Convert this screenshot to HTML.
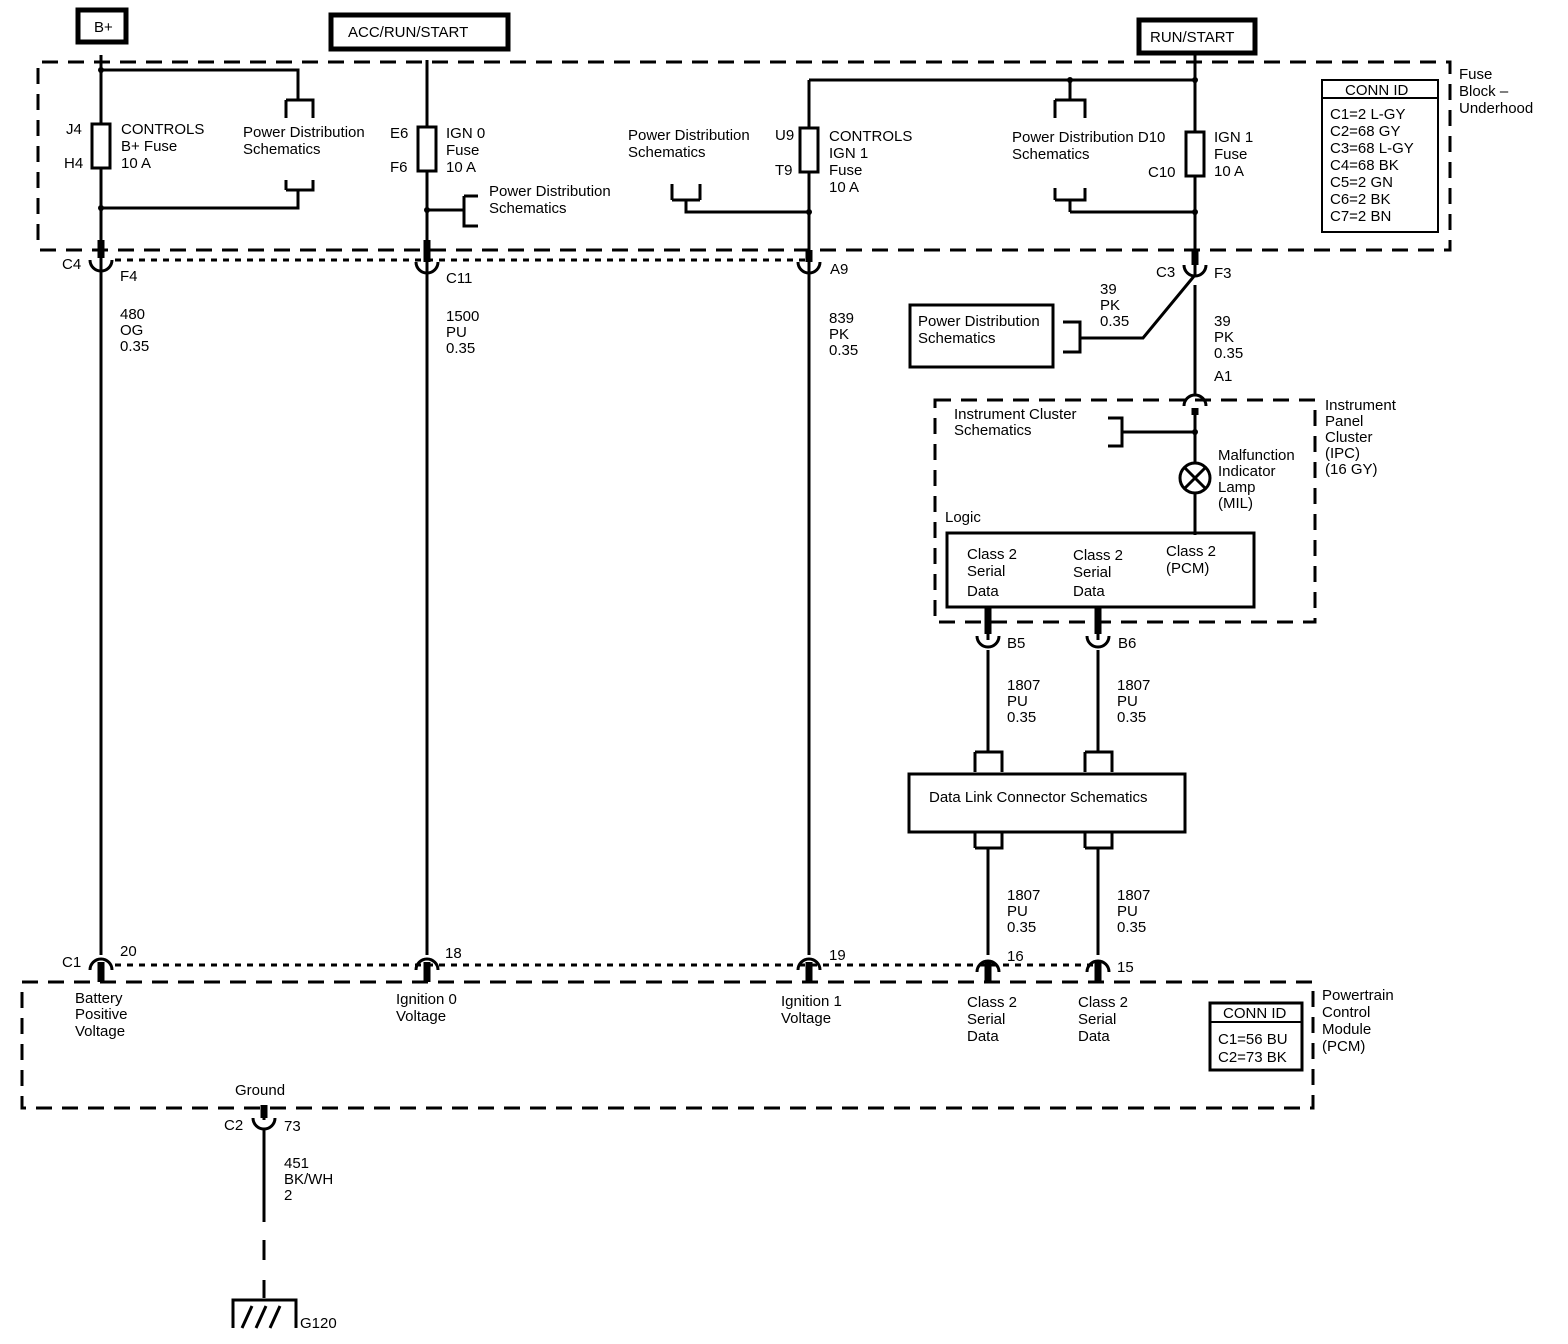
<!DOCTYPE html>
<html><head><meta charset="utf-8"><style>
html,body{margin:0;padding:0;background:#fff}
svg{display:block}
text{font-family:"Liberation Sans",sans-serif;font-size:15px;fill:#000}
</style></head><body>
<svg width="1568" height="1344" viewBox="0 0 1568 1344" xmlns="http://www.w3.org/2000/svg">
<g fill="none" stroke="#000">
<rect x="78" y="10" width="48" height="32" stroke-width="5"/>
<rect x="331" y="15" width="177" height="34" stroke-width="5"/>
<rect x="1139" y="20" width="116" height="33" stroke-width="5"/>
<path d="M38 240 V62 H1450 V250 H38" stroke-width="3" stroke-dasharray="16,10"/>
<path d="M935 400 H1315 V622 H935 Z" stroke-width="3" stroke-dasharray="16,10"/>
<path d="M22 982 H1313 V1108 H22 Z" stroke-width="3" stroke-dasharray="16,10"/>
<path d="M115 260 H805" stroke-width="3" stroke-dasharray="6,6"/>
<path d="M115 965 H1095" stroke-width="3" stroke-dasharray="6,6"/>
<g stroke-width="3">
<path d="M101 55 V955"/>
<path d="M427 60 V955"/>
<path d="M809 80 V955"/>
<path d="M1195 55 V275 M1195 285 V395"/>
<path d="M1195 410 V462 M1195 494 V535"/>
<path d="M809 80 H1195"/>
<path d="M101 70 H298 V100 M286 100 H313 V118 M286 100 V118"/>
<path d="M101 208 H298 V190 M286 190 H313 V180 M286 190 V180"/>
<path d="M427 210 H464 M464 196 H478 M464 196 V226 H478"/>
<path d="M686 200 V212 H809 M672 200 H700 M672 200 V184 M700 200 V184"/>
<path d="M1070 80 V100 M1055 100 H1085 V118 M1055 100 V118"/>
<path d="M1070 212 H1195 M1070 212 V200 M1055 200 H1085 V188 M1055 200 V188"/>
<path d="M1080 338 H1143 L1195 275"/>
<path d="M1063 322 H1080 V352 H1063"/>
<path d="M1122 432 H1195 M1108 418 H1122 V446 H1108"/>
<path d="M988 610 V640 M988 650 V752 M975 752 H1002 V772 M975 752 V772"/>
<path d="M1098 610 V640 M1098 650 V752 M1085 752 H1112 V772 M1085 752 V772"/>
<path d="M988 848 V955 M975 848 H1002 V832 M975 848 V832"/>
<path d="M1098 848 V955 M1085 848 H1112 V832 M1085 848 V832"/>
<path d="M264 1105 V1120 M264 1130 V1222"/>
<path d="M264 1240 V1260 M264 1280 V1298"/>
<path d="M233 1328 V1300 H296 V1328 M242 1328 L252 1306 M256 1328 L266 1306 M270 1328 L280 1306"/>
</g>
<g stroke-width="3">
<rect x="92" y="124" width="18" height="44" fill="#fff"/>
<rect x="418" y="127" width="18" height="44" fill="#fff"/>
<rect x="800" y="128" width="18" height="44" fill="#fff"/>
<rect x="1186" y="132" width="18" height="44" fill="#fff"/>
<rect x="910" y="305" width="143" height="62"/>
<rect x="947" y="533" width="307" height="74"/>
<rect x="909" y="774" width="276" height="58"/>
<rect x="1322" y="80" width="116" height="152" stroke-width="2"/>
<path d="M1322 98 H1438" stroke-width="2"/>
<rect x="1210" y="1003" width="92" height="67"/>
<path d="M1210 1022 H1302" stroke-width="2"/>
<circle cx="1195" cy="478" r="15"/>
<path d="M1184 467 L1206 489 M1206 467 L1184 489"/>
</g>
<g stroke-width="3">
<path d="M90 260 A11 11 0 0 0 112 260"/>
<path d="M416 262 A11 11 0 0 0 438 262"/>
<path d="M798 262 A11 11 0 0 0 820 262"/>
<path d="M1184 265 A11 11 0 0 0 1206 265"/>
<path d="M1184 406 A11 11 0 0 1 1206 406"/>
<path d="M977 636 A11 11 0 0 0 999 636"/>
<path d="M1087 636 A11 11 0 0 0 1109 636"/>
<path d="M90 970 A11 11 0 0 1 112 970"/>
<path d="M416 970 A11 11 0 0 1 438 970"/>
<path d="M798 970 A11 11 0 0 1 820 970"/>
<path d="M977 972 A11 11 0 0 1 999 972"/>
<path d="M1087 972 A11 11 0 0 1 1109 972"/>
<path d="M253 1118 A11 11 0 0 0 275 1118"/>
</g>
<g stroke-width="7">
<path d="M101 240 V258 M427 240 V262 M809 250 V262 M1195 250 V265 M1195 408 V415 M988 608 V634 M1098 608 V634 M988 962 V982 M1098 962 V982 M101 962 V982 M427 962 V982 M809 962 V982 M264 1105 V1118"/>
</g>
</g>
<g fill="#000">
<circle cx="101" cy="70" r="3"/><circle cx="101" cy="208" r="3"/><circle cx="427" cy="210" r="3"/>
<circle cx="809" cy="212" r="3"/><circle cx="1070" cy="80" r="3"/><circle cx="1195" cy="80" r="3"/>
<circle cx="1195" cy="212" r="3"/><circle cx="1195" cy="432" r="3"/>
</g>
<text x="94" y="32">B+</text>
<text x="348" y="37">ACC/RUN/START</text>
<text x="1150" y="42">RUN/START</text>
<text x="66" y="134">J4</text><text x="64" y="168">H4</text>
<text x="121" y="134">CONTROLS</text><text x="121" y="151">B+ Fuse</text><text x="121" y="168">10 A</text>
<text x="243" y="137">Power Distribution</text><text x="243" y="154">Schematics</text>
<text x="390" y="138">E6</text><text x="390" y="172">F6</text>
<text x="446" y="138">IGN 0</text><text x="446" y="155">Fuse</text><text x="446" y="172">10 A</text>
<text x="489" y="196">Power Distribution</text><text x="489" y="213">Schematics</text>
<text x="628" y="140">Power Distribution</text><text x="628" y="157">Schematics</text>
<text x="775" y="140">U9</text><text x="775" y="175">T9</text>
<text x="829" y="141">CONTROLS</text><text x="829" y="158">IGN 1</text><text x="829" y="175">Fuse</text><text x="829" y="192">10 A</text>
<text x="1012" y="142">Power Distribution D10</text><text x="1012" y="159">Schematics</text>
<text x="1148" y="177">C10</text>
<text x="1214" y="142">IGN 1</text><text x="1214" y="159">Fuse</text><text x="1214" y="176">10 A</text>
<text x="1459" y="79">Fuse</text><text x="1459" y="96">Block –</text><text x="1459" y="113">Underhood</text>
<text x="1345" y="95">CONN ID</text>
<text x="1330" y="119">C1=2 L-GY</text><text x="1330" y="136">C2=68 GY</text><text x="1330" y="153">C3=68 L-GY</text><text x="1330" y="170">C4=68 BK</text><text x="1330" y="187">C5=2 GN</text><text x="1330" y="204">C6=2 BK</text><text x="1330" y="221">C7=2 BN</text>
<text x="62" y="269">C4</text><text x="120" y="281">F4</text>
<text x="446" y="283">C11</text><text x="830" y="274">A9</text>
<text x="1156" y="277">C3</text><text x="1214" y="278">F3</text>
<text x="120" y="319">480</text><text x="120" y="335">OG</text><text x="120" y="351">0.35</text>
<text x="446" y="321">1500</text><text x="446" y="337">PU</text><text x="446" y="353">0.35</text>
<text x="829" y="323">839</text><text x="829" y="339">PK</text><text x="829" y="355">0.35</text>
<text x="1100" y="294">39</text><text x="1100" y="310">PK</text><text x="1100" y="326">0.35</text>
<text x="1214" y="326">39</text><text x="1214" y="342">PK</text><text x="1214" y="358">0.35</text>
<text x="918" y="326">Power Distribution</text><text x="918" y="343">Schematics</text>
<text x="1214" y="381">A1</text>
<text x="1325" y="410">Instrument</text><text x="1325" y="426">Panel</text><text x="1325" y="442">Cluster</text><text x="1325" y="458">(IPC)</text><text x="1325" y="474">(16 GY)</text>
<text x="954" y="419">Instrument Cluster</text><text x="954" y="435">Schematics</text>
<text x="1218" y="460">Malfunction</text><text x="1218" y="476">Indicator</text><text x="1218" y="492">Lamp</text><text x="1218" y="508">(MIL)</text>
<text x="945" y="522">Logic</text>
<text x="967" y="559">Class 2</text><text x="967" y="576">Serial</text><text x="967" y="596">Data</text>
<text x="1073" y="560">Class 2</text><text x="1073" y="577">Serial</text><text x="1073" y="596">Data</text>
<text x="1166" y="556">Class 2</text><text x="1166" y="573">(PCM)</text>
<text x="1007" y="648">B5</text><text x="1118" y="648">B6</text>
<text x="1007" y="690">1807</text><text x="1007" y="706">PU</text><text x="1007" y="722">0.35</text>
<text x="1117" y="690">1807</text><text x="1117" y="706">PU</text><text x="1117" y="722">0.35</text>
<text x="929" y="802">Data Link Connector Schematics</text>
<text x="1007" y="900">1807</text><text x="1007" y="916">PU</text><text x="1007" y="932">0.35</text>
<text x="1117" y="900">1807</text><text x="1117" y="916">PU</text><text x="1117" y="932">0.35</text>
<text x="62" y="967">C1</text><text x="120" y="956">20</text><text x="445" y="958">18</text><text x="829" y="960">19</text>
<text x="1007" y="961">16</text><text x="1117" y="972">15</text>
<text x="75" y="1003">Battery</text><text x="75" y="1019">Positive</text><text x="75" y="1036">Voltage</text>
<text x="396" y="1004">Ignition 0</text><text x="396" y="1021">Voltage</text>
<text x="781" y="1006">Ignition 1</text><text x="781" y="1023">Voltage</text>
<text x="967" y="1007">Class 2</text><text x="967" y="1024">Serial</text><text x="967" y="1041">Data</text>
<text x="1078" y="1007">Class 2</text><text x="1078" y="1024">Serial</text><text x="1078" y="1041">Data</text>
<text x="1223" y="1018">CONN ID</text>
<text x="1218" y="1044">C1=56 BU</text><text x="1218" y="1062">C2=73 BK</text>
<text x="1322" y="1000">Powertrain</text><text x="1322" y="1017">Control</text><text x="1322" y="1034">Module</text><text x="1322" y="1051">(PCM)</text>
<text x="235" y="1095">Ground</text>
<text x="224" y="1130">C2</text><text x="284" y="1131">73</text>
<text x="284" y="1168">451</text><text x="284" y="1184">BK/WH</text><text x="284" y="1200">2</text>
<text x="300" y="1328">G120</text>
</svg>
</body></html>
